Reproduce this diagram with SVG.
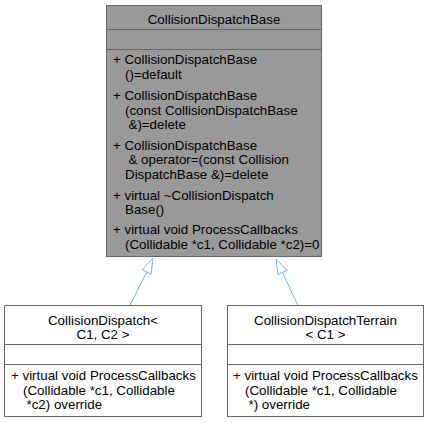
<svg xmlns="http://www.w3.org/2000/svg" width="429" height="423" viewBox="0 0 429 423">
<style>
.box{stroke:#666666;stroke-width:1}
.base{fill:#999999}
.plain{fill:#ffffff}
.sep{stroke:#666666;stroke-width:1}
text{font-family:"Liberation Sans",Arial,Helvetica,sans-serif;font-size:13.33px;fill:#000000}
.c{text-anchor:middle}
.edge{fill:none;stroke:#63b8ff;stroke-width:1}
.head{fill:#ffffff;stroke:#63b8ff;stroke-width:1}
</style>
<rect width="429" height="423" fill="#ffffff"/>
<g id="connectors">
<path class="edge" d="M130,305.5 L146.7,272"/>
<polygon class="head" points="153,258 151.2,274.2 142.2,269.8"/>
<path class="edge" d="M298,305.5 L282.5,272.5"/>
<polygon class="head" points="276,259 287,270.3 278,274.6"/>
</g>
<g id="CollisionDispatchBase">
<rect class="box base" x="106.5" y="5.5" width="215" height="251"/>
<line class="sep" x1="106.5" y1="29.5" x2="321.5" y2="29.5"/>
<line class="sep" x1="106.5" y1="49.5" x2="321.5" y2="49.5"/>
<text class="c" x="214" y="23.5">CollisionDispatchBase</text>
<text x="113" y="64">+ CollisionDispatchBase</text>
<text x="125" y="78.5">()=default</text>
<text x="113" y="100">+ CollisionDispatchBase</text>
<text x="125" y="114.5">(const CollisionDispatchBase</text>
<text x="128.5" y="129">&amp;)=delete</text>
<text x="113" y="149.5">+ CollisionDispatchBase</text>
<text x="128.5" y="164">&amp; operator=(const Collision</text>
<text x="125" y="178.5">DispatchBase &amp;)=delete</text>
<text x="113" y="199.5">+ virtual ~CollisionDispatch</text>
<text x="125" y="214">Base()</text>
<text x="113" y="234">+ virtual void ProcessCallbacks</text>
<text x="125" y="248.5">(Collidable *c1, Collidable *c2)=0</text>
</g>
<g id="CollisionDispatch">
<rect class="box plain" x="4.5" y="305.5" width="197" height="111"/>
<line class="sep" x1="4.5" y1="344.5" x2="201.5" y2="344.5"/>
<line class="sep" x1="4.5" y1="364.5" x2="201.5" y2="364.5"/>
<text class="c" x="103" y="324.5">CollisionDispatch&lt;</text>
<text class="c" x="103" y="339">C1, C2 &gt;</text>
<text x="11" y="380">+ virtual void ProcessCallbacks</text>
<text x="23" y="394.5">(Collidable *c1, Collidable</text>
<text x="26.5" y="409">*c2) override</text>
</g>
<g id="CollisionDispatchTerrain">
<rect class="box plain" x="227.5" y="305.5" width="196" height="111"/>
<line class="sep" x1="227.5" y1="344.5" x2="423.5" y2="344.5"/>
<line class="sep" x1="227.5" y1="364.5" x2="423.5" y2="364.5"/>
<text class="c" x="325.5" y="324.5">CollisionDispatchTerrain</text>
<text class="c" x="325.5" y="339">&lt; C1 &gt;</text>
<text x="233" y="380">+ virtual void ProcessCallbacks</text>
<text x="245" y="394.5">(Collidable *c1, Collidable</text>
<text x="248.5" y="409">*) override</text>
</g>
</svg>
